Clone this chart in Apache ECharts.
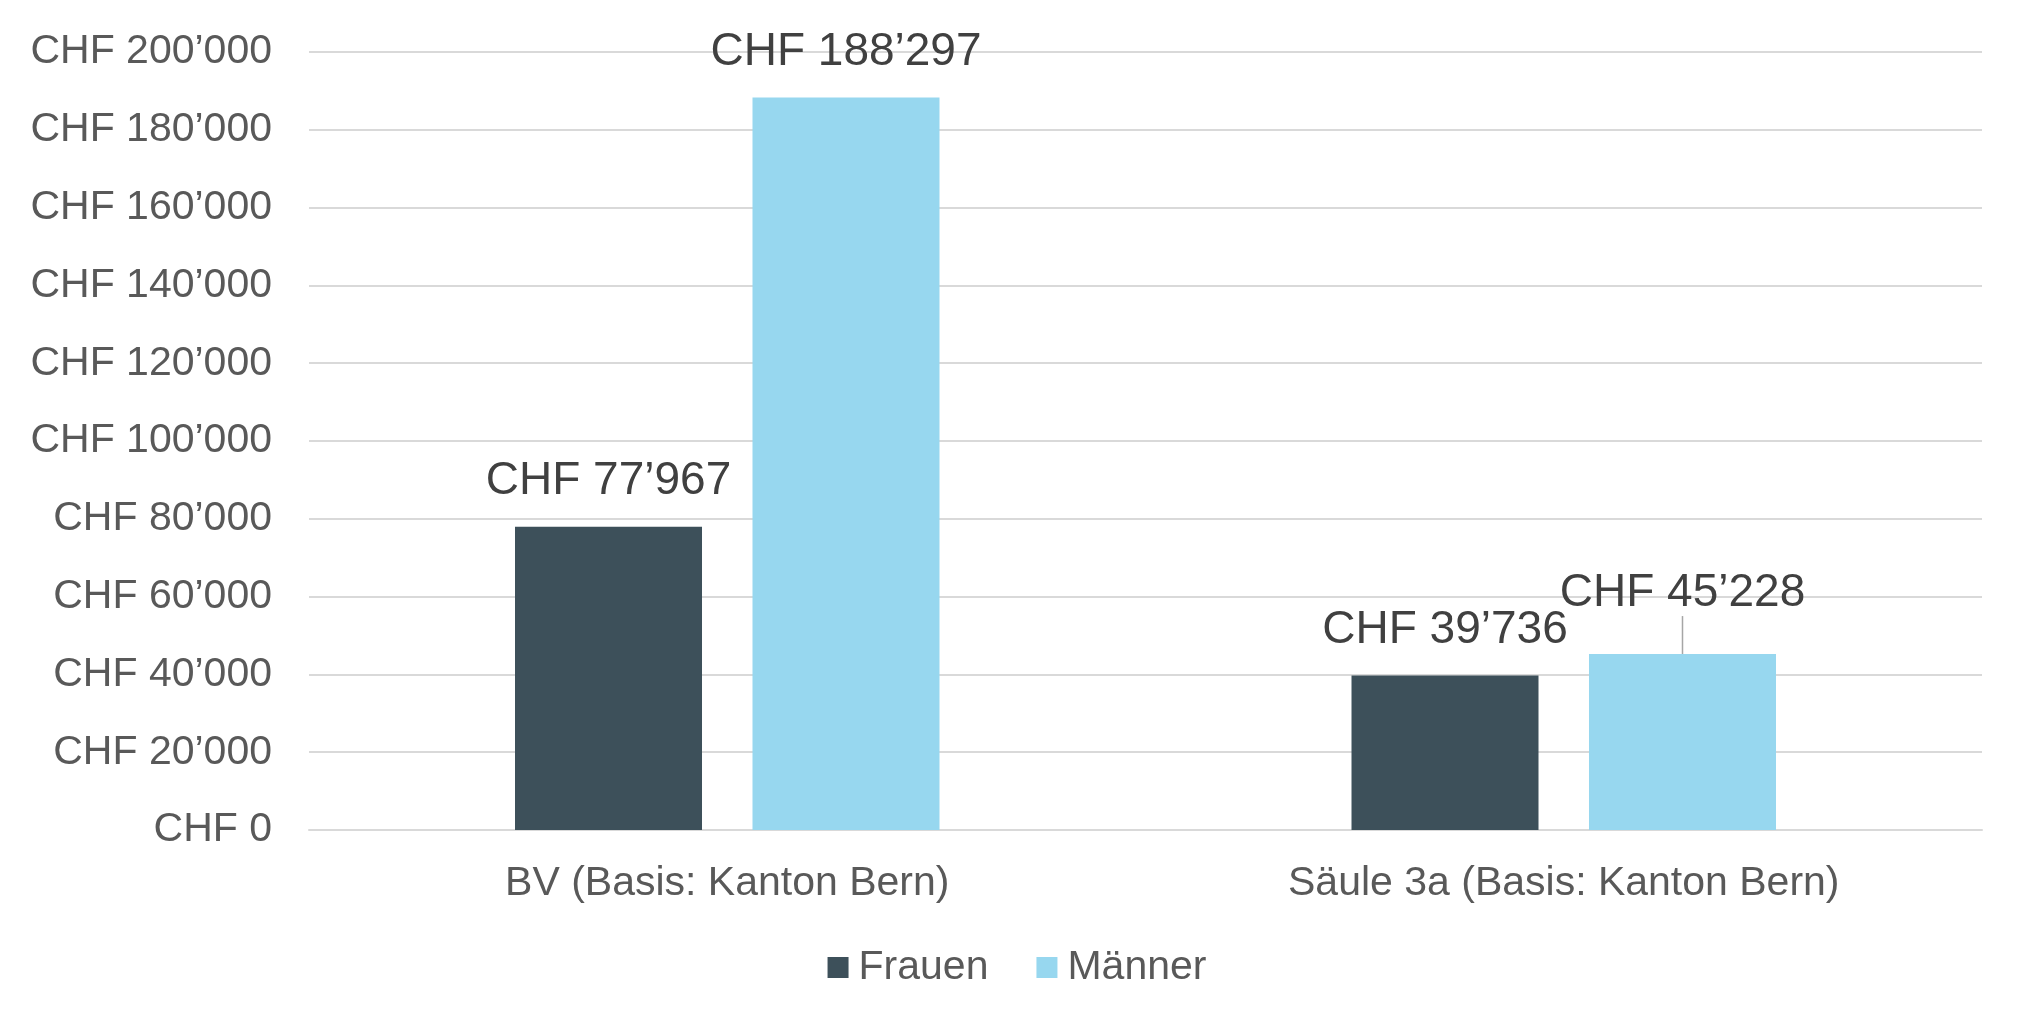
<!DOCTYPE html>
<html>
<head>
<meta charset="utf-8">
<script src="https://cdn.jsdelivr.net/npm/echarts@6/dist/echarts.min.js"></script>
<style>
html,body{margin:0;padding:0;background:#fff;}
#chart{width:2034px;height:1034px;}
</style>
</head>
<body>
<div id="chart"></div>
<script>
const categories = ['BV (Basis: Kanton Bern)', 'Säule 3a (Basis: Kanton Bern)'];
const seriesNames = ['Frauen', 'Männer'];
const frauenValues = [77967, 39736];
const maennerValues = [188297, 45228];
const yMin = 0, yMax = 200000, yStep = 20000;
// index of the label that is lifted and gets a leader line
const liftedLabelIndex = 1;

const FONT = "Arial, 'Liberation Sans', sans-serif";
function chf(v) {
  return 'CHF ' + String(Math.round(v)).replace(/\B(?=(\d{3})+(?!\d))/g, '\u2019');
}

const labelStyle = {
  show: true, position: 'top', distance: 22,
  fontFamily: FONT, fontSize: 46, color: '#404040',
  formatter: p => chf(p.value)
};

const chart = echarts.init(document.getElementById('chart'));
chart.setOption({
  backgroundColor: '#ffffff',
  animation: false,
  grid: { left: 309, right: 52, top: 52, bottom: 204, containLabel: false },
  legend: {
    data: seriesNames,
    left: 'center',
    top: 947,
    padding: 0,
    itemWidth: 21,
    itemHeight: 21,
    itemGap: 48,
    icon: 'rect',
    textStyle: { fontFamily: FONT, fontSize: 41, color: '#595959', padding: [0, 0, 0, 5] }
  },
  xAxis: {
    type: 'category',
    data: categories,
    axisLine: { show: true, lineStyle: { color: '#d9d9d9', width: 2 } },
    axisTick: { show: false },
    axisLabel: { fontFamily: FONT, fontSize: 41, color: '#595959', margin: 33 }
  },
  yAxis: {
    type: 'value',
    min: yMin, max: yMax, interval: yStep,
    axisLine: { show: false },
    axisTick: { show: false },
    splitLine: { lineStyle: { color: '#d9d9d9', width: 2 } },
    axisLabel: { fontFamily: FONT, fontSize: 41, color: '#595959', margin: 37, formatter: chf }
  },
  series: [
    {
      name: seriesNames[0],
      type: 'bar',
      data: frauenValues,
      barWidth: 187,
      barGap: '27%',
      itemStyle: { color: '#3d505a' },
      label: labelStyle
    },
    {
      name: seriesNames[1],
      type: 'bar',
      data: maennerValues.map((v, i) => i === liftedLabelIndex
        ? { value: v, labelLine: { show: true } }
        : { value: v, labelLine: { show: false } }),
      barWidth: 187,
      barGap: '27%',
      itemStyle: { color: '#97d7ef' },
      label: labelStyle,
      labelLine: { show: false, lineStyle: { color: '#a6a6a6', width: 1.5 } },
      labelLayout: function (params) {
        if (params.dataIndex === liftedLabelIndex) { return { dy: -16 }; }
        return {};
      }
    }
  ]
});
</script>
</body>
</html>
